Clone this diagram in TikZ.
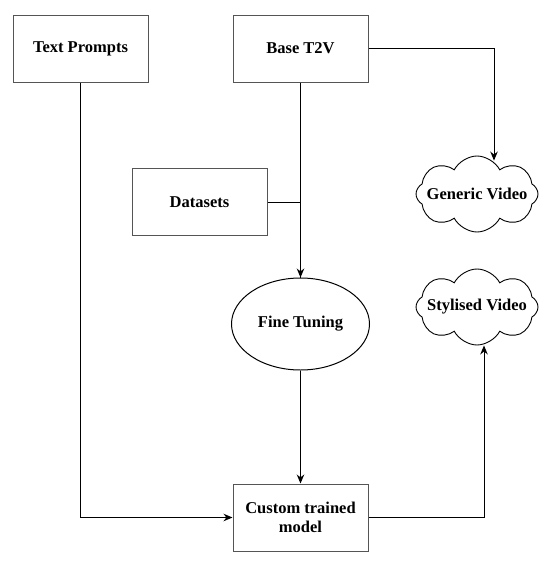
\documentclass[tikz,border=0pt]{standalone}
\usepackage{fontspec}
\setmainfont{Liberation Serif}
\usepackage{xcolor}
\usetikzlibrary{shapes.geometric,shapes.symbols,arrows.meta}
\definecolor{cRand}{RGB}{85,85,85}

\begin{document}
\begin{tikzpicture}[x=1pt,y=-1pt,font=\fontsize{16.5}{18.5}\selectfont\bfseries,
  kasten/.style={draw=cRand,line width=1pt,minimum width=135pt,minimum height=67pt,align=center,inner sep=0pt},
  wolke/.style={draw,line width=0.9pt,cloud,cloud puffs=8,cloud puff arc=125,aspect=1.7,minimum width=122pt,minimum height=76pt,inner sep=0pt},
  pfeil/.style={line width=1pt,-{Stealth[length=9pt,width=7.5pt]}}]
\useasboundingbox (0,0) rectangle (551,563);
\node[kasten] (prompts) at (80.5,48.5) {Text Prompts};
\node[kasten] (base) at (300.5,48.5) {Base T2V};
\node[kasten] (data) at (199.5,202) {Datasets};
\node[draw,ellipse,line width=1pt,minimum width=138pt,minimum height=92pt,inner sep=0pt] (tune) at (300.5,324) {Fine Tuning};
\node[kasten] (model) at (300.5,517.5) {Custom trained\\model};
\node[wolke,label={center:Generic Video}] (generic) at (477,194) {};
\node[wolke,label={center:Stylised Video}] (styled) at (477,307) {};
\coordinate (genin) at ([xshift=17pt,yshift=-5pt]generic.north);
\coordinate (styin) at ([xshift=7pt]styled.south);
% Verbindungen
\draw[pfeil] (prompts.south) |- (model.west);
\draw[pfeil] (base.south) -- (tune.north);
\draw[line width=1pt] (data.east) -| (tune.north);
\draw[pfeil] (base.east) -| (genin);
\draw[pfeil] (tune.south) -- (model.north);
\draw[pfeil] (model.east) -| (styin);
\end{tikzpicture}
\end{document}
